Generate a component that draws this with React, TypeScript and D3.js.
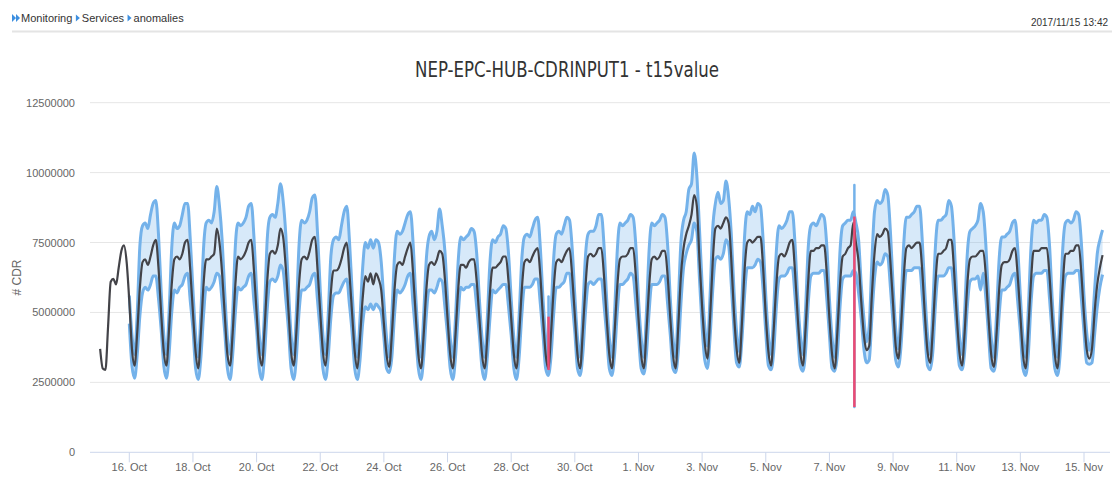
import { useEffect, useRef } from "react";
import * as d3 from "d3";

// two-hourly samples, values in millions of CDR
const actualStart = "2017-10-15T02:00";
const bandStart = "2017-10-16T00:00";
const stepHours = 2;

const actual = [
  /* 15 Oct */ 3.7, 3.0, 2.95, 4.5, 6.1, 6.2, 6.0, 6.6, 7.2, 7.4, 6.8,
  /* 16 Oct */ 5.4, 3.7, 3.1, 4.3, 5.9, 6.8, 6.9, 6.7, 7.0, 7.4, 7.6, 6.6,
  /* 17 Oct */ 5.0, 3.6, 3.1, 4.4, 6.0, 6.9, 7.0, 6.9, 7.1, 7.5, 7.6, 6.5,
  /* 18 Oct */ 5.0, 3.6, 3.0, 4.3, 6.0, 6.9, 6.9, 7.0, 7.1, 8.0, 7.5, 6.4,
  /* 19 Oct */ 4.9, 3.5, 3.1, 4.3, 6.0, 7.0, 6.9, 7.0, 7.2, 7.5, 7.6, 6.5,
  /* 20 Oct */ 5.0, 3.6, 3.1, 4.4, 6.1, 7.1, 7.2, 7.1, 7.4, 8.0, 7.7, 6.6,
  /* 21 Oct */ 5.1, 3.6, 3.1, 4.3, 6.0, 6.9, 7.0, 6.9, 7.2, 7.6, 7.7, 6.5,
  /* 22 Oct */ 5.0, 3.6, 3.1, 4.2, 5.7, 6.5, 6.5, 6.6, 6.9, 7.3, 7.5, 6.4,
  /* 23 Oct */ 5.0, 3.6, 3.0, 4.1, 5.5, 6.3, 6.1, 6.4, 6.0, 6.4, 6.2, 5.8,
  /* 24 Oct */ 4.6, 3.5, 3.05, 4.2, 5.8, 6.7, 6.8, 6.7, 7.0, 7.3, 7.5, 6.4,
  /* 25 Oct */ 4.9, 3.5, 3.0, 4.2, 5.8, 6.7, 6.8, 6.7, 6.9, 7.2, 7.1, 6.2,
  /* 26 Oct */ 4.8, 3.5, 3.0, 4.2, 5.8, 6.7, 6.7, 6.6, 6.8, 6.9, 6.9, 6.1,
  /* 27 Oct */ 4.8, 3.5, 3.0, 4.1, 5.7, 6.6, 6.6, 6.7, 6.8, 7.0, 7.0, 6.1,
  /* 28 Oct */ 4.8, 3.5, 3.0, 4.2, 5.8, 6.8, 6.9, 6.8, 7.0, 7.2, 7.3, 6.3,
  /* 29 Oct */ 4.8, 3.5, 3.0, 4.2, 5.8, 6.8, 6.9, 6.8, 7.0, 7.2, 7.3, 6.3,
  /* 30 Oct */ 4.9, 3.5, 3.0, 4.3, 5.9, 7.0, 7.1, 7.0, 7.1, 7.3, 7.3, 6.3,
  /* 31 Oct */ 4.8, 3.5, 3.0, 4.3, 5.9, 6.9, 7.0, 7.0, 7.1, 7.3, 7.3, 6.3,
  /* 1 Nov */ 4.8, 3.5, 3.0, 4.3, 5.9, 6.9, 7.0, 6.9, 7.0, 7.2, 7.2, 6.3,
  /* 2 Nov */ 4.8, 3.5, 3.0, 4.5, 6.3, 7.3, 7.8, 8.1, 8.5, 9.2, 8.8, 6.9,
  /* 3 Nov */ 5.2, 3.9, 3.35, 4.8, 6.8, 8.0, 8.1, 8.0, 8.2, 8.4, 8.2, 6.9,
  /* 4 Nov */ 5.0, 3.7, 3.2, 4.6, 6.5, 7.5, 7.6, 7.5, 7.6, 7.7, 7.7, 6.6,
  /* 5 Nov */ 4.9, 3.6, 3.1, 4.4, 6.0, 7.0, 7.1, 7.0, 7.2, 7.5, 7.6, 6.5,
  /* 6 Nov */ 4.9, 3.6, 3.1, 4.4, 6.1, 7.2, 7.2, 7.3, 7.3, 7.4, 7.4, 6.4,
  /* 7 Nov */ 4.8, 3.5, 3.0, 4.3, 6.0, 7.0, 7.1, 7.3, 7.4, 8.2, 7.5, 6.8,
  /* 8 Nov */ 5.4, 4.2, 3.65, 3.8, 5.6, 7.1, 7.8, 7.7, 7.8, 8.0, 7.9, 6.8,
  /* 9 Nov */ 5.3, 3.8, 3.35, 4.5, 6.2, 7.3, 7.4, 7.3, 7.4, 7.5, 7.5, 6.5,
  /* 10 Nov */ 4.9, 3.6, 3.2, 4.4, 6.1, 7.1, 7.1, 7.2, 7.3, 7.6, 7.6, 6.5,
  /* 11 Nov */ 4.9, 3.6, 3.1, 4.3, 6.0, 6.9, 7.0, 7.0, 7.1, 7.2, 7.2, 6.3,
  /* 12 Nov */ 4.8, 3.5, 3.05, 4.2, 5.8, 6.7, 6.8, 6.8, 6.9, 7.2, 7.3, 6.3,
  /* 13 Nov */ 4.9, 3.5, 3.0, 4.4, 6.1, 7.2, 7.2, 7.2, 7.3, 7.3, 7.3, 6.3,
  /* 14 Nov */ 4.8, 3.5, 3.0, 4.3, 6.0, 7.1, 7.1, 7.2, 7.2, 7.4, 7.4, 6.4,
  /* 15 Nov */ 4.9, 3.7, 3.35, 3.7, 5.0, 6.0, 6.6, 7.05,
];

const upper = [
  /* 16 Oct */ 5.6, 4.2, 3.5, 5.0, 7.4, 8.1, 8.2, 8.0, 8.5, 8.9, 9.0, 7.8,
  /* 17 Oct */ 5.8, 4.2, 3.5, 5.0, 7.3, 8.2, 8.0, 8.1, 8.5, 8.9, 8.9, 7.6,
  /* 18 Oct */ 5.8, 4.2, 3.4, 5.0, 7.3, 8.2, 8.3, 8.2, 8.6, 9.5, 8.8, 7.6,
  /* 19 Oct */ 5.7, 4.1, 3.5, 5.0, 7.4, 8.2, 8.1, 8.2, 8.4, 8.8, 8.9, 7.7,
  /* 20 Oct */ 5.8, 4.2, 3.5, 5.1, 7.6, 8.4, 8.5, 8.4, 8.9, 9.6, 9.0, 7.8,
  /* 21 Oct */ 5.9, 4.2, 3.5, 5.0, 7.4, 8.3, 8.2, 8.3, 8.6, 9.1, 9.2, 7.8,
  /* 22 Oct */ 5.8, 4.2, 3.5, 4.9, 7.0, 7.6, 7.7, 7.6, 8.1, 8.6, 8.8, 7.6,
  /* 23 Oct */ 5.8, 4.2, 3.4, 4.8, 6.6, 7.5, 7.3, 7.6, 7.3, 7.6, 7.5, 6.8,
  /* 24 Oct */ 5.4, 4.1, 3.4, 4.9, 7.0, 7.9, 7.8, 7.9, 8.2, 8.5, 8.6, 7.5,
  /* 25 Oct */ 5.6, 4.1, 3.4, 4.9, 6.9, 7.7, 7.9, 7.6, 7.9, 8.7, 8.1, 7.2,
  /* 26 Oct */ 5.5, 4.1, 3.4, 4.8, 6.8, 7.7, 7.6, 7.7, 7.8, 8.0, 7.9, 7.1,
  /* 27 Oct */ 5.5, 4.1, 3.4, 4.8, 6.8, 7.6, 7.5, 7.7, 7.8, 8.1, 8.0, 7.1,
  /* 28 Oct */ 5.5, 4.1, 3.4, 4.9, 6.9, 7.7, 7.8, 7.7, 8.0, 8.3, 8.4, 7.3,
  /* 29 Oct */ 5.5, 4.1, 3.4, 4.9, 6.9, 7.8, 7.9, 7.8, 8.1, 8.4, 8.3, 7.3,
  /* 30 Oct */ 5.6, 4.1, 3.4, 5.0, 7.0, 7.8, 7.9, 7.9, 8.1, 8.5, 8.5, 7.4,
  /* 31 Oct */ 5.5, 4.1, 3.4, 5.0, 7.2, 8.2, 8.1, 8.2, 8.3, 8.5, 8.4, 7.4,
  /* 1 Nov */ 5.5, 4.1, 3.4, 5.0, 7.2, 8.2, 8.1, 8.2, 8.3, 8.5, 8.4, 7.4,
  /* 2 Nov */ 5.5, 4.1, 3.4, 5.3, 7.5, 8.3, 8.6, 9.4, 9.6, 10.7, 9.9, 8.0,
  /* 3 Nov */ 6.0, 4.5, 3.8, 5.6, 8.0, 8.9, 9.3, 8.9, 9.0, 9.7, 9.1, 7.8,
  /* 4 Nov */ 5.8, 4.3, 3.6, 5.4, 7.7, 8.6, 8.5, 8.8, 8.6, 8.9, 8.8, 7.6,
  /* 5 Nov */ 5.6, 4.2, 3.5, 5.1, 7.2, 8.1, 8.0, 8.1, 8.3, 8.6, 8.6, 7.5,
  /* 6 Nov */ 5.6, 4.2, 3.5, 5.1, 7.3, 8.1, 8.2, 8.1, 8.3, 8.5, 8.4, 7.4,
  /* 7 Nov */ 5.5, 4.1, 3.4, 5.0, 7.2, 8.1, 8.2, 8.3, 8.3, 8.6, 8.2, 7.6,
  /* 8 Nov */ 6.0, 4.8, 3.95, 4.5, 6.8, 8.6, 9.0, 8.9, 9.0, 9.4, 9.2, 7.9,
  /* 9 Nov */ 6.0, 4.4, 3.7, 5.2, 7.4, 8.4, 8.4, 8.5, 8.6, 8.8, 8.8, 7.6,
  /* 10 Nov */ 5.7, 4.2, 3.5, 5.2, 7.4, 8.3, 8.3, 8.4, 8.5, 9.0, 8.8, 7.6,
  /* 11 Nov */ 5.6, 4.2, 3.5, 5.0, 7.1, 7.9, 8.0, 8.1, 8.3, 8.9, 8.6, 7.4,
  /* 12 Nov */ 5.5, 4.1, 3.4, 4.9, 6.9, 7.7, 7.7, 7.8, 7.9, 8.2, 8.3, 7.3,
  /* 13 Nov */ 5.6, 4.1, 3.4, 5.1, 7.3, 8.3, 8.2, 8.3, 8.3, 8.5, 8.4, 7.4,
  /* 14 Nov */ 5.5, 4.1, 3.4, 5.1, 7.3, 8.2, 8.3, 8.2, 8.3, 8.6, 8.5, 7.5,
  /* 15 Nov */ 5.6, 4.3, 3.65, 4.3, 5.8, 7.1, 7.6, 7.95,
];

const lower = [
  /* 16 Oct */ 4.6, 3.1, 2.65, 3.5, 4.9, 5.7, 5.9, 5.8, 6.0, 6.3, 6.3, 5.5,
  /* 17 Oct */ 4.4, 3.1, 2.65, 3.5, 5.0, 5.8, 5.7, 5.9, 6.0, 6.3, 6.4, 5.4,
  /* 18 Oct */ 4.4, 3.0, 2.6, 3.4, 4.9, 5.9, 5.8, 5.9, 6.1, 6.4, 6.3, 5.4,
  /* 19 Oct */ 4.3, 3.0, 2.6, 3.5, 5.0, 5.9, 5.8, 5.9, 6.0, 6.3, 6.4, 5.4,
  /* 20 Oct */ 4.4, 3.0, 2.6, 3.5, 5.1, 6.1, 6.2, 6.1, 6.3, 6.7, 6.5, 5.5,
  /* 21 Oct */ 4.4, 3.0, 2.6, 3.4, 5.0, 5.8, 5.8, 5.9, 6.0, 6.3, 6.4, 5.4,
  /* 22 Oct */ 4.3, 3.0, 2.6, 3.4, 4.8, 5.6, 5.7, 5.7, 5.9, 6.1, 6.2, 5.3,
  /* 23 Oct */ 4.3, 3.0, 2.6, 3.3, 4.6, 5.2, 5.1, 5.3, 5.1, 5.3, 5.2, 5.0,
  /* 24 Oct */ 4.1, 3.0, 2.85, 3.4, 4.9, 5.8, 5.7, 5.8, 6.0, 6.3, 6.4, 5.3,
  /* 25 Oct */ 4.2, 3.0, 2.6, 3.4, 4.9, 5.8, 5.8, 5.7, 5.9, 6.2, 6.1, 5.2,
  /* 26 Oct */ 4.2, 3.0, 2.6, 3.4, 4.9, 5.9, 5.8, 5.9, 5.9, 6.0, 6.0, 5.2,
  /* 27 Oct */ 4.2, 3.0, 2.6, 3.4, 4.8, 5.8, 5.7, 5.8, 5.9, 6.0, 6.0, 5.2,
  /* 28 Oct */ 4.2, 3.0, 2.6, 3.4, 4.9, 5.9, 5.9, 5.9, 6.0, 6.2, 6.2, 5.3,
  /* 29 Oct */ 4.2, 3.0, 2.75, 3.4, 4.9, 5.9, 5.9, 6.0, 6.1, 6.4, 6.4, 5.4,
  /* 30 Oct */ 4.3, 3.0, 2.75, 3.5, 5.0, 6.0, 6.1, 6.0, 6.1, 6.2, 6.2, 5.3,
  /* 31 Oct */ 4.2, 3.0, 2.75, 3.5, 5.0, 6.0, 6.0, 6.1, 6.2, 6.4, 6.3, 5.3,
  /* 1 Nov */ 4.2, 3.0, 2.8, 3.5, 5.0, 6.0, 6.0, 6.0, 6.1, 6.3, 6.3, 5.3,
  /* 2 Nov */ 4.2, 3.0, 2.85, 3.6, 5.3, 6.6, 7.1, 7.4, 7.6, 8.2, 7.9, 6.2,
  /* 3 Nov */ 4.5, 3.3, 3.0, 4.1, 5.8, 6.9, 7.0, 6.9, 7.1, 7.6, 7.4, 6.0,
  /* 4 Nov */ 4.4, 3.2, 3.05, 4.0, 5.6, 6.6, 6.6, 6.6, 6.7, 6.9, 6.8, 5.8,
  /* 5 Nov */ 4.3, 3.1, 2.95, 3.6, 5.2, 6.2, 6.3, 6.3, 6.4, 6.6, 6.6, 5.6,
  /* 6 Nov */ 4.3, 3.1, 2.9, 3.6, 5.3, 6.3, 6.4, 6.4, 6.4, 6.5, 6.5, 5.5,
  /* 7 Nov */ 4.2, 3.0, 2.9, 3.5, 5.2, 6.2, 6.3, 6.3, 6.3, 6.5, 6.4, 5.7,
  /* 8 Nov */ 4.8, 3.7, 3.2, 3.3, 4.8, 6.2, 6.8, 6.7, 6.8, 7.1, 7.0, 5.9,
  /* 9 Nov */ 4.6, 3.3, 3.05, 3.8, 5.4, 6.5, 6.5, 6.5, 6.6, 6.6, 6.6, 5.6,
  /* 10 Nov */ 4.3, 3.1, 2.95, 3.6, 5.3, 6.3, 6.3, 6.3, 6.4, 6.6, 6.6, 5.6,
  /* 11 Nov */ 4.3, 3.1, 2.95, 3.6, 5.2, 6.1, 6.2, 6.2, 6.3, 5.8, 6.4, 5.5,
  /* 12 Nov */ 4.2, 3.0, 2.9, 3.5, 4.9, 5.8, 5.8, 5.9, 6.0, 6.3, 6.4, 5.4,
  /* 13 Nov */ 4.3, 3.0, 2.75, 3.5, 5.3, 6.3, 6.4, 6.4, 6.4, 6.5, 6.5, 5.5,
  /* 14 Nov */ 4.2, 3.0, 2.75, 3.5, 5.3, 6.3, 6.4, 6.4, 6.4, 6.5, 6.5, 5.5,
  /* 15 Nov */ 4.3, 3.2, 3.15, 3.2, 4.2, 5.2, 5.9, 6.35,
];

// detected anomalies (millions)
const anomalyTimes = ["2017-10-29T04:10", "2017-11-07T18:50"];
const anomalyLow = [2.94, 1.62];
const anomalyHigh = [4.85, 8.43];
const anomalyBandTop = [5.57, 9.56];

const tickDays = [
  "2017-10-16", "2017-10-18", "2017-10-20", "2017-10-22", "2017-10-24",
  "2017-10-26", "2017-10-28", "2017-10-30", "2017-11-01", "2017-11-03",
  "2017-11-05", "2017-11-07", "2017-11-09", "2017-11-11", "2017-11-13",
  "2017-11-15",
];
const yTicks = [0, 2500000, 5000000, 7500000, 10000000, 12500000];

const chartTitle = "NEP-EPC-HUB-CDRINPUT1 - t15value";
const yTitle = "# CDR";
const crumbs = ["Monitoring", "Services", "anomalies"];
const stamp = "2017/11/15 13:42";

function App() {
  const svgRef = useRef<SVGSVGElement>(null);

  useEffect(() => {
    const width = 1112;
    const height = 479;
    const plot = { left: 90, right: 1110, top: 102.7, bottom: 452.3 };
    const font = "'Liberation Sans', Arial, sans-serif";

    const svg = d3.select(svgRef.current).attr("width", width).attr("height", height);
    svg.selectAll("*").remove();

    const parseTime = d3.timeParse("%Y-%m-%dT%H:%M");
    const parseDay = d3.timeParse("%Y-%m-%d");
    const ticks = tickDays.map(d => parseDay(d) as Date);

    const x = d3
      .scaleTime()
      .domain([ticks[0], ticks[ticks.length - 1]])
      .range([129.3, 1084]);

    const y = d3.scaleLinear().domain([0, 12500000]).range([plot.bottom, plot.top]);

    const t0 = parseTime(actualStart) as Date;
    const b0 = parseTime(bandStart) as Date;
    const actualPts = actual.map((v, i) => ({ t: d3.timeHour.offset(t0, i * stepHours), v: v * 1e6 }));
    const bandPts = upper.map((u, i) => ({
      t: d3.timeHour.offset(b0, i * stepHours),
      hi: u * 1e6,
      lo: lower[i] * 1e6,
    }));

    // header
    svg.append("rect").attr("x", 12).attr("y", 30.5).attr("width", width - 12).attr("height", 2).attr("fill", "#e4e4e4");

    const crumb = svg.append("g").attr("font-family", font).attr("font-size", 11).attr("fill", "#333");
    crumb.append("path").attr("d", "M12,14 L16,18 L12,22 Z M16,14 L20,18 L16,22 Z").attr("fill", "#3d8fe0");
    let cx = 21;
    crumbs.forEach((c, i) => {
      if (i > 0) {
        crumb.append("path").attr("d", `M${cx + 2},14.5 L${cx + 6},18 L${cx + 2},21.5 Z`).attr("fill", "#3d8fe0");
        cx += 8;
      }
      const tx = crumb.append("text").attr("x", cx).attr("y", 22).text(c);
      const w = (tx.node() as SVGTextElement).getComputedTextLength();
      cx += w + 1.5;
    });

    svg.append("text")
      .attr("x", 1108).attr("y", 26)
      .attr("text-anchor", "end")
      .attr("font-family", font).attr("font-size", 10).attr("fill", "#333")
      .text(stamp);

    // title
    svg.append("text")
      .attr("x", 567).attr("y", 77)
      .attr("text-anchor", "middle")
      .attr("font-family", "'Liberation Sans Narrow', 'DejaVu Sans Condensed', 'Open Sans', sans-serif")
      .attr("font-size", 22).attr("fill", "#333")
      .attr("textLength", 304).attr("lengthAdjust", "spacingAndGlyphs")
      .text(chartTitle);

    // grid
    svg.append("g")
      .selectAll("line")
      .data(yTicks.filter(v => v > 0))
      .join("line")
      .attr("x1", plot.left).attr("x2", plot.right)
      .attr("y1", d => y(d)).attr("y2", d => y(d))
      .attr("stroke", "#e6e6e6");

    svg.append("g")
      .attr("font-family", font).attr("font-size", 11).attr("fill", "#666")
      .selectAll("text")
      .data(yTicks)
      .join("text")
      .attr("x", 75).attr("y", d => y(d) + 4)
      .attr("text-anchor", "end")
      .text(d => String(d));

    svg.append("text")
      .attr("transform", `translate(20.5,${(plot.top + plot.bottom) / 2}) rotate(-90)`)
      .attr("text-anchor", "middle")
      .attr("font-family", font).attr("font-size", 12).attr("fill", "#666")
      .text(yTitle);

    // band
    const area = d3.area<typeof bandPts[number]>()
      .x(d => x(d.t)).y0(d => y(d.lo)).y1(d => y(d.hi))
      .curve(d3.curveMonotoneX);
    const hiLine = d3.line<typeof bandPts[number]>().x(d => x(d.t)).y(d => y(d.hi)).curve(d3.curveMonotoneX);
    const loLine = d3.line<typeof bandPts[number]>().x(d => x(d.t)).y(d => y(d.lo)).curve(d3.curveMonotoneX);

    svg.append("path").datum(bandPts).attr("d", area).attr("fill", "#7cb5ec").attr("fill-opacity", 0.3);

    const anomalies = anomalyTimes.map((t, i) => ({
      t: parseTime(t) as Date,
      lo: anomalyLow[i] * 1e6,
      hi: anomalyHigh[i] * 1e6,
      top: anomalyBandTop[i] * 1e6,
    }));
    svg.append("g")
      .selectAll("line")
      .data(anomalies)
      .join("line")
      .attr("x1", d => x(d.t)).attr("x2", d => x(d.t))
      .attr("y1", d => y(d.lo)).attr("y2", d => y(d.top))
      .attr("stroke", "#74b2ea").attr("stroke-width", 2.5).attr("stroke-linecap", "round");

    [hiLine, loLine].forEach(gen => {
      svg.append("path").datum(bandPts).attr("d", gen)
        .attr("fill", "none").attr("stroke", "#74b2ea").attr("stroke-width", 3)
        .attr("stroke-linejoin", "round");
    });

    // actual
    const line = d3.line<typeof actualPts[number]>().x(d => x(d.t)).y(d => y(d.v)).curve(d3.curveMonotoneX);
    svg.append("path").datum(actualPts).attr("d", line)
      .attr("fill", "none").attr("stroke", "#434348").attr("stroke-width", 2.2)
      .attr("stroke-linejoin", "round");

    svg.append("g")
      .selectAll("line")
      .data(anomalies)
      .join("line")
      .attr("x1", d => x(d.t)).attr("x2", d => x(d.t))
      .attr("y1", d => y(d.lo)).attr("y2", d => y(d.hi))
      .attr("stroke", "#ee4a72").attr("stroke-width", 2.5);

    // x axis
    svg.append("line")
      .attr("x1", plot.left).attr("x2", plot.right)
      .attr("y1", plot.bottom).attr("y2", plot.bottom)
      .attr("stroke", "#ccd6eb");

    const fmt = d3.timeFormat("%-d. %b");
    const xg = svg.append("g").attr("font-family", font).attr("font-size", 11).attr("fill", "#666");
    xg.selectAll("line")
      .data(ticks)
      .join("line")
      .attr("x1", d => x(d)).attr("x2", d => x(d))
      .attr("y1", plot.bottom).attr("y2", plot.bottom + 10)
      .attr("stroke", "#ccd6eb");
    xg.selectAll("text")
      .data(ticks)
      .join("text")
      .attr("x", d => x(d)).attr("y", 471)
      .attr("text-anchor", "middle")
      .text(d => fmt(d));
  }, []);

  return (
    <svg
      ref={svgRef}
      style={{ position: "absolute", left: 0, top: 0, background: "#fff" }}
    ></svg>
  );
}

export default App;
